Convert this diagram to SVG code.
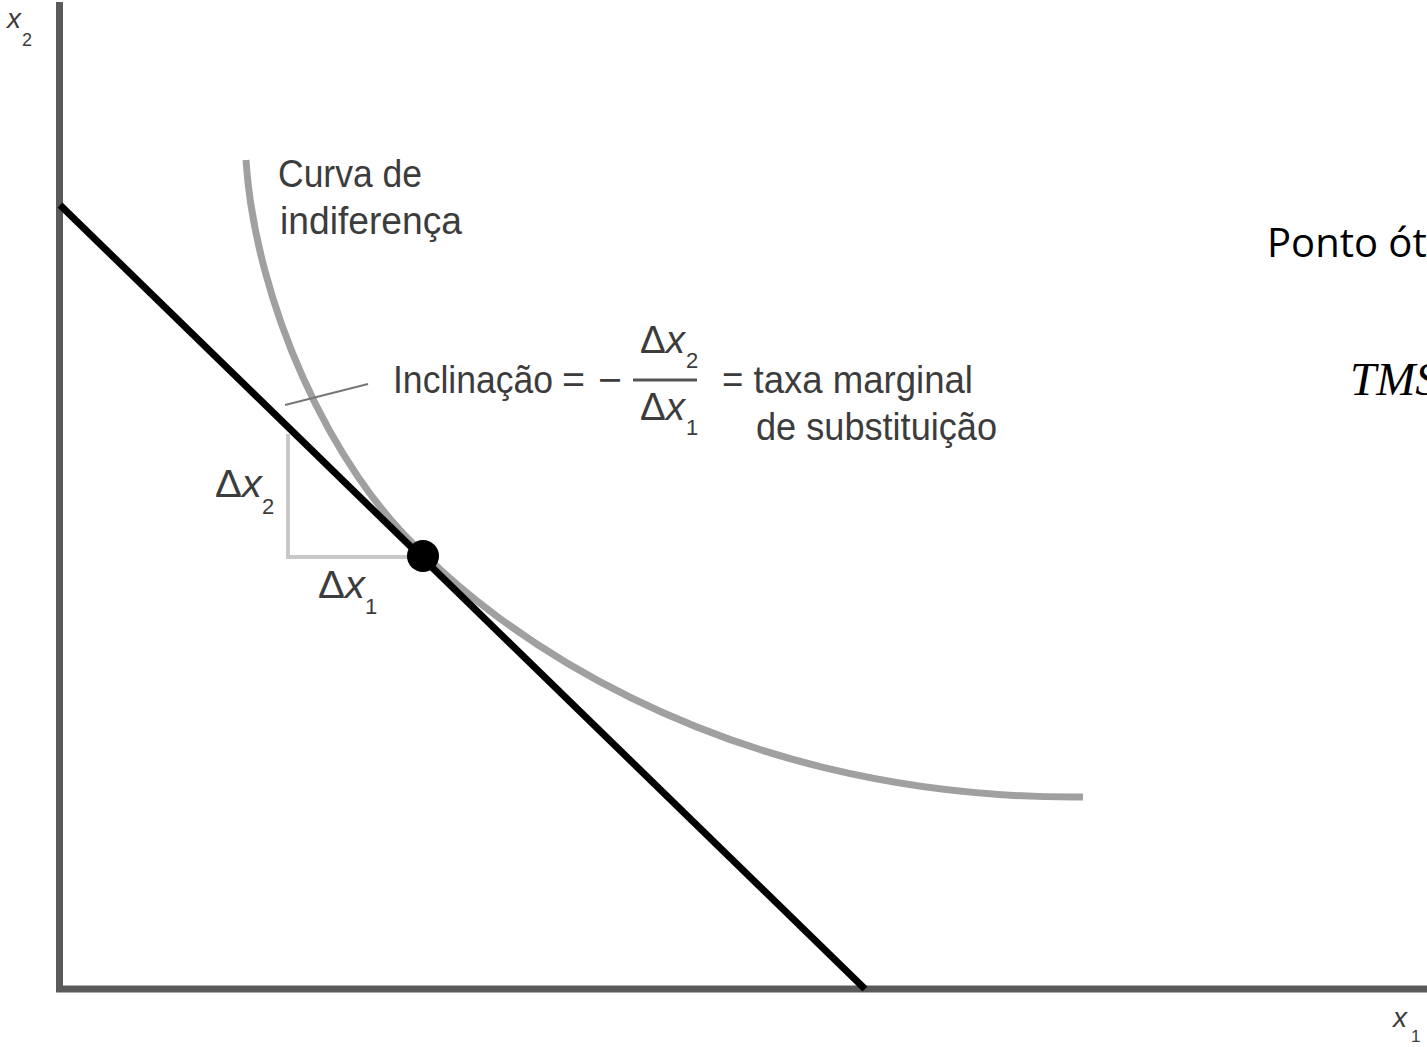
<svg xmlns="http://www.w3.org/2000/svg" width="1427" height="1047" viewBox="0 0 1427 1047">
  <style>
    .lbl { font-family: "Liberation Sans", Arial, sans-serif; font-size: 38px; fill: #3c3c3c; }
    .sub { font-family: "Liberation Sans", Arial, sans-serif; font-size: 22px; fill: #3c3c3c; }
    .it { font-style: italic; }
    .axis { stroke: #5a5a5a; stroke-width: 7; fill: none; }
  </style>
  <rect width="1427" height="1047" fill="#ffffff"/>

  <g id="axes">
    <line class="axis" x1="59.5" y1="2" x2="59.5" y2="992"/>
    <line class="axis" x1="56" y1="989" x2="1427" y2="989"/>
    <text class="lbl it" x="7" y="28" style="font-size:28px">x</text>
    <text class="sub" x="22" y="46" style="font-size:18px">2</text>
    <text class="lbl it" x="1393" y="1027" style="font-size:28px">x</text>
    <text class="sub" x="1411" y="1042" style="font-size:17px">1</text>
  </g>

  <g id="connectors">
    <path id="indifference-curve" d="M246,160 C255,300 330,470 425,555 C480,610 700,800 1083,797" fill="none" stroke="#a0a0a0" stroke-width="7"/>
    <line id="budget-line" x1="60" y1="205" x2="865" y2="989" stroke="#000" stroke-width="7"/>
    <polyline id="triangle" points="288,434 288,557 412,557" fill="none" stroke="#c8c8c8" stroke-width="4"/>
    <line id="leader" x1="285" y1="405" x2="368" y2="384" stroke="#777" stroke-width="2"/>
  </g>

  <g id="optimum">
    <circle cx="423" cy="556" r="16" fill="#000"/>
  </g>

  <g id="curve-label">
    <text class="lbl" x="278" y="187" textLength="144" lengthAdjust="spacingAndGlyphs">Curva de</text>
    <text class="lbl" x="280" y="234" textLength="182" lengthAdjust="spacingAndGlyphs">indiferença</text>
  </g>

  <g id="slope-label">
    <text class="lbl" x="393" y="393" textLength="160" lengthAdjust="spacingAndGlyphs">Inclinação</text>
    <text class="lbl" x="562" y="393" textLength="23" lengthAdjust="spacingAndGlyphs">=</text>
    <text class="lbl" x="598" y="393" textLength="24" lengthAdjust="spacingAndGlyphs">−</text>
    <line x1="633" y1="380" x2="697" y2="380" stroke="#555" stroke-width="3"/>
    <text class="lbl" x="640" y="353" textLength="45" lengthAdjust="spacingAndGlyphs">Δ<tspan class="it">x</tspan></text>
    <text class="sub" x="686" y="368">2</text>
    <text class="lbl" x="640" y="420" textLength="45" lengthAdjust="spacingAndGlyphs">Δ<tspan class="it">x</tspan></text>
    <text class="sub" x="686" y="435">1</text>
    <text class="lbl" x="722" y="393" textLength="251" lengthAdjust="spacingAndGlyphs">= taxa marginal</text>
    <text class="lbl" x="756" y="440" textLength="241" lengthAdjust="spacingAndGlyphs">de substituição</text>
  </g>

  <g id="delta-labels">
    <text class="lbl" x="215" y="497" textLength="47" lengthAdjust="spacingAndGlyphs">Δ<tspan class="it">x</tspan></text>
    <text class="sub" x="262" y="514">2</text>
    <text class="lbl" x="318" y="598" textLength="47" lengthAdjust="spacingAndGlyphs">Δ<tspan class="it">x</tspan></text>
    <text class="sub" x="365" y="614">1</text>
  </g>

  <g id="side-notes">
    <text x="1267" y="257" font-family="'Open Sans', 'Noto Sans', sans-serif" font-size="40" fill="#000">Ponto ót</text>
    <text x="1350" y="395" font-family="'Liberation Serif', 'DejaVu Serif', serif" font-style="italic" font-size="47" fill="#000">TMS</text>
  </g>
</svg>
